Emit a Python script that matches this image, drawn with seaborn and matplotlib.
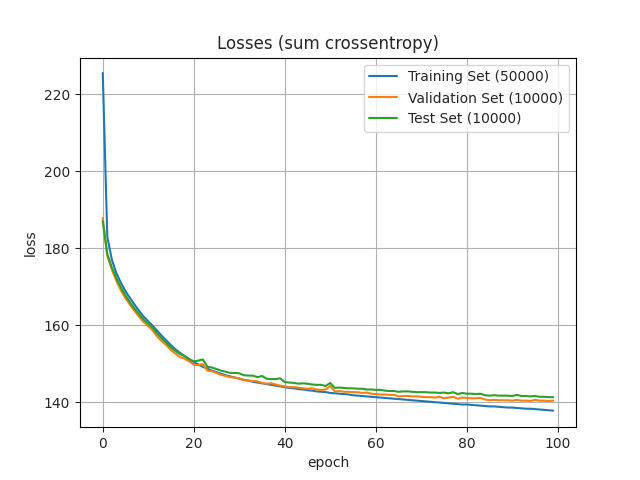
import matplotlib
matplotlib.use("Agg")
import matplotlib.pyplot as plt
import seaborn as sns
import pandas as pd

train = [225.5, 183.0, 177.0, 173.5, 171.0, 168.8, 167.0, 165.3, 163.7, 162.2,
         161.0, 159.8, 158.5, 157.2, 156.0, 154.8, 153.7, 152.8, 151.9, 151.1,
         150.4, 149.8, 149.2, 148.7, 148.2, 147.8, 147.4, 147.0, 146.7, 146.4,
         146.1, 145.8, 145.6, 145.3, 145.1, 144.9, 144.7, 144.5, 144.3, 144.1,
         143.9, 143.7, 143.6, 143.4, 143.3, 143.1, 143.0, 142.8, 142.7, 142.6,
         142.4, 142.3, 142.2, 142.1, 142.0, 141.8, 141.7, 141.6, 141.5, 141.4,
         141.3, 141.2, 141.1, 141.0, 140.9, 140.8, 140.7, 140.6, 140.5, 140.4,
         140.3, 140.2, 140.1, 140.0, 139.9, 139.8, 139.7, 139.6, 139.5, 139.4,
         139.4, 139.3, 139.2, 139.1, 139.0, 138.9, 138.9, 138.8, 138.7, 138.6,
         138.6, 138.5, 138.4, 138.3, 138.3, 138.2, 138.1, 138.0, 137.9, 137.8]
val = [187.8, 178.0, 174.5, 171.5, 169.0, 167.0, 165.3, 163.7, 162.2, 160.8,
       159.8, 158.6, 157.0, 155.8, 154.8, 153.5, 152.6, 151.7, 151.3, 150.6,
       149.8, 149.6, 149.9, 148.2, 148.0, 147.6, 147.1, 146.8, 146.5, 146.4,
       146.2, 145.7, 145.6, 145.5, 145.4, 145.0, 144.8, 144.9, 144.6, 144.3,
       144.1, 143.9, 143.9, 143.8, 143.6, 143.5, 143.6, 143.3, 143.2, 143.3,
       144.2, 142.8, 142.9, 142.7, 142.7, 142.6, 142.6, 142.4, 142.5, 142.2,
       142.1, 142.0, 142.0, 141.9, 141.9, 141.5, 141.6, 141.6, 141.5, 141.5,
       141.4, 141.3, 141.3, 141.2, 141.4, 141.0, 141.2, 141.4, 140.9, 141.2,
       141.1, 141.0, 141.0, 141.1, 140.7, 140.5, 140.6, 140.5, 140.5, 140.5,
       140.4, 140.6, 140.4, 140.4, 140.3, 140.6, 140.4, 140.4, 140.3, 140.4]
test = [187.0, 178.5, 175.0, 172.2, 169.8, 167.7, 165.9, 164.3, 162.8, 161.4,
        160.4, 159.3, 157.8, 156.5, 155.4, 154.2, 153.3, 152.5, 152.0, 151.2,
        150.6, 150.8, 151.1, 149.2, 149.0, 148.6, 148.2, 147.9, 147.6, 147.6,
        147.5, 147.0, 146.9, 146.9, 146.5, 146.8, 146.1, 146.0, 146.0, 146.2,
        145.2, 145.1, 145.0, 144.8, 144.9, 144.8, 144.6, 144.5, 144.5, 144.2,
        145.0, 143.7, 143.8, 143.7, 143.6, 143.6, 143.5, 143.5, 143.3, 143.3,
        143.2, 143.2, 143.0, 142.9, 142.9, 142.7, 142.8, 142.8, 142.7, 142.6,
        142.6, 142.6, 142.5, 142.5, 142.4, 142.5, 142.3, 142.6, 142.1, 142.4,
        142.2, 142.2, 142.1, 142.2, 141.8, 141.7, 141.8, 141.7, 141.7, 141.7,
        141.6, 141.9, 141.6, 141.6, 141.5, 141.6, 141.4, 141.4, 141.3, 141.3]
labels = ["Training Set (50000)", "Validation Set (10000)", "Test Set (10000)"]

epochs = list(range(len(train)))
df = pd.DataFrame({"epoch": epochs * 3,
                   "loss": train + val + test,
                   "set": [labels[0]] * 100 + [labels[1]] * 100 + [labels[2]] * 100})

sns.set_style("white")
plt.rcParams["font.family"] = ["DejaVu Sans"]
fig, ax = plt.subplots(figsize=(6.4, 4.8), dpi=100)
sns.lineplot(data=df, x="epoch", y="loss", hue="set",
             palette=["#1f77b4", "#ff7f0e", "#2ca02c"], linewidth=1.5, ax=ax)
ax.set_title("Losses (sum crossentropy)")
ax.set_yticks([140, 160, 180, 200, 220])
ax.set_ylim(133.5, 229.5)
ax.set_xlim(-5, 104)
ax.grid(True, color="#b0b0b0", linewidth=0.8)
for s in ax.spines.values():
    s.set_color("black")
    s.set_linewidth(0.8)
ax.tick_params(direction="out", length=3.5, width=0.8, bottom=True, left=True)
ax.legend(title=None, loc="upper right")
fig.savefig("out.png")
